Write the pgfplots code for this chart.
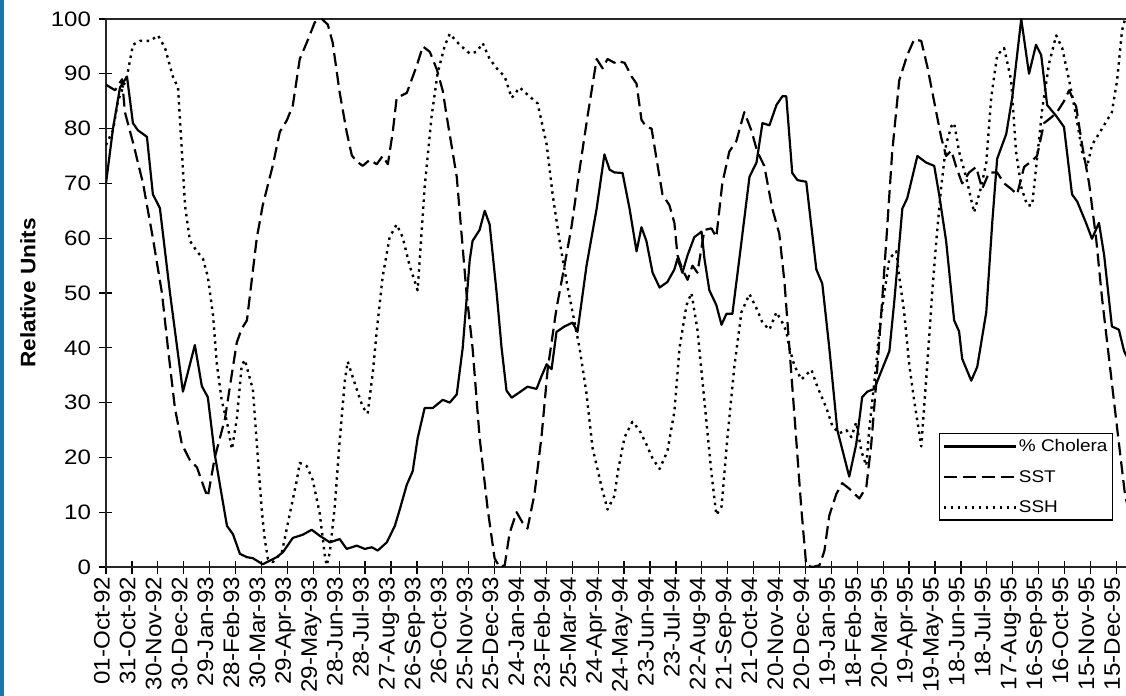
\documentclass[border=0pt]{standalone}
\usepackage{fontspec}
\setmainfont{Liberation Sans}
\newfontfamily\xtfont{Liberation Sans}[FakeStretch=1.08]
\newfontfamily\ytfont{Liberation Sans}[FakeStretch=1.15]
\newfontfamily\lgfont{Liberation Sans}[FakeStretch=1.12]
\newfontfamily\ylfont{Liberation Sans}[FakeStretch=1.08]
\usepackage{pgfplots}
\pgfplotsset{compat=1.18}
\definecolor{frameblue}{RGB}{28,118,165}
\begin{document}
\begin{tikzpicture}
\clip (-106bp,-129bp) rectangle (1020bp,567bp);
\fill[white] (-106bp,-129bp) rectangle (1020bp,567bp);
\fill[frameblue] (-106bp,-129bp) rectangle (-102bp,567bp);
\begin{axis}[
  at={(0,0)}, anchor=south west,
  scale only axis, width=1022bp, height=548bp,
  xmin=0, xmax=39.45, ymin=0, ymax=100,
  xtick={0,1,...,39},
  xticklabels={01-Oct-92,31-Oct-92,30-Nov-92,30-Dec-92,29-Jan-93,28-Feb-93,30-Mar-93,29-Apr-93,29-May-93,28-Jun-93,28-Jul-93,27-Aug-93,26-Sep-93,26-Oct-93,25-Nov-93,25-Dec-93,24-Jan-94,23-Feb-94,25-Mar-94,24-Apr-94,24-May-94,23-Jun-94,23-Jul-94,22-Aug-94,21-Sep-94,21-Oct-94,20-Nov-94,20-Dec-94,19-Jan-95,18-Feb-95,20-Mar-95,19-Apr-95,19-May-95,18-Jun-95,18-Jul-95,17-Aug-95,16-Sep-95,16-Oct-95,15-Nov-95,15-Dec-95},
  ytick={0,10,...,100},
  xtick pos=bottom, ytick pos=left,
  tick align=center, major tick length=13bp,
  tick style={line width=1.3bp, black},
  axis line style={line width=1.7bp, black!85},
  /pgf/number format/assume math mode=true,
  xticklabel style={rotate=90, anchor=east, inner ysep=0pt, text height=0.72em, text depth=0pt, font=\xtfont\fontsize{22.5}{25}\selectfont},
  yticklabel style={font=\ytfont\fontsize{21}{24}\selectfont, xshift=-5bp},
  ylabel={\bfseries Relative Units},
  every axis y label/.style={at={(axis description cs:0,0.5)}, xshift=-78bp, rotate=90, anchor=center, font=\ylfont\fontsize{21}{24}\selectfont},
  legend style={at={(0.815,0.2445)}, anchor=north west, draw=black, line width=1.2bp,
    font=\lgfont\fontsize{17}{19}\selectfont, inner xsep=3bp, inner ysep=4bp, row sep=13bp,
    cells={anchor=west}},
  legend image code/.code={\draw[#1] (0bp,0bp) -- (72bp,0bp);},
  every axis plot/.append style={no markers, line join=round, black},
]
\addplot[line width=2.2bp] coordinates {
(0,70) (0.27,80) (0.54,87.5) (0.81,89.5) (1.04,81) (1.23,79.7) (1.58,78.5) (1.81,68) (2.08,65.5) (2.47,50) (2.97,32) (3.43,40.5) (3.70,33) (3.93,31) (4.2,20.5) (4.47,13) (4.67,7.5) (4.9,6) (5.17,2.4) (5.44,1.8) (5.67,1.6) (6.05,0.5) (6.59,1.8) (6.83,2.7) (7.21,5.3) (7.60,5.9) (7.94,6.8) (8.25,5.7) (8.64,4.5) (9.02,5.1) (9.29,3.3) (9.68,3.9) (9.99,3.3) (10.26,3.6) (10.49,3.0) (10.84,4.5) (11.15,7.5) (11.34,10.5) (11.61,15) (11.84,17.5) (12.03,23.5) (12.30,29) (12.61,29) (13.0,30.5) (13.27,30) (13.54,31.5) (13.77,40) (14.04,56) (14.15,59.5) (14.42,61.5) (14.62,65) (14.81,62.5) (15.08,50) (15.27,40) (15.46,32.2) (15.66,30.9) (15.97,31.9) (16.27,32.9) (16.62,32.5) (16.81,34.8) (17.01,37) (17.20,36.1) (17.39,42.9) (17.70,43.9) (18.01,44.6) (18.20,42.9) (18.55,55) (18.94,65.4) (19.24,75.3) (19.44,72.5) (19.63,72) (19.94,71.9) (20.21,65.4) (20.48,57.6) (20.67,62) (20.86,59.5) (21.10,53.7) (21.37,51) (21.67,52) (21.94,54.3) (22.06,56.3) (22.25,53.7) (22.45,56.9) (22.71,60.2) (22.99,61.2) (23.10,56.3) (23.29,50.5) (23.56,47.8) (23.76,44.2) (23.95,46.2) (24.18,46.2) (24.45,56.3) (24.84,71.2) (25.11,73.8) (25.34,81) (25.61,80.6) (25.88,84.3) (26.11,85.9) (26.26,85.9) (26.49,71.9) (26.69,70.6) (27.03,70.3) (27.42,54.3) (27.65,51.7) (27.92,40) (28.23,25) (28.69,16.5) (28.96,22.4) (29.19,31) (29.39,32) (29.66,32.5) (29.85,34.8) (30.24,39.4) (30.43,48.5) (30.74,65.4) (30.93,67.3) (31.32,75) (31.66,73.8) (31.97,73.2) (32.16,68) (32.43,59.5) (32.74,45) (32.93,43) (33.05,38) (33.40,34) (33.63,36.5) (33.98,46.5) (34.21,62.8) (34.40,74.5) (34.75,79) (34.98,85.6) (35.33,100) (35.63,90) (35.90,95.3) (36.10,93.4) (36.33,84.3) (36.68,82.3) (36.98,80.3) (37.29,68) (37.49,66.7) (37.83,62.8) (38.06,59.9) (38.33,62.8) (38.53,56.9) (38.83,43.9) (39.10,43.3) (39.30,39.4) (39.45,38)
};
\addlegendentry{\% Cholera}
\addplot[line width=2.2bp, dash pattern=on 13bp off 6bp] coordinates {
(0,88) (0.35,87) (0.62,89) (0.73,83) (1.04,77.5) (1.43,70) (1.81,60) (2.16,50) (2.39,40) (2.66,29) (2.93,22.4) (3.24,19.5) (3.51,18.2) (3.82,14) (3.93,12.8) (4.2,20) (4.59,27) (4.90,36.5) (5.05,41) (5.24,43.5) (5.44,45) (5.82,60) (6.05,66) (6.44,73.3) (6.71,79.4) (6.98,81.5) (7.21,84.2) (7.48,92.7) (7.75,95.7) (8.06,99.4) (8.33,100) (8.56,99) (8.75,95.7) (9.02,86.6) (9.29,79.4) (9.49,75.1) (9.68,74) (9.91,73.2) (10.18,74.3) (10.45,73.5) (10.68,75) (10.88,73.5) (11.07,79.4) (11.22,85.6) (11.61,86.5) (11.99,91.4) (12.23,95) (12.50,94) (12.77,90.8) (13.00,86.9) (13.15,82.3) (13.54,71.2) (13.92,49.8) (14.15,40) (14.42,23.7) (14.73,10.7) (15.0,1.6) (15.19,0) (15.39,0.3) (15.58,6.2) (15.85,10) (16.08,8.1) (16.27,7) (16.54,13.3) (16.81,23.7) (17.05,36.1) (17.39,47.2) (17.70,55) (17.97,62.1) (18.28,72.5) (18.59,82.3) (18.94,92.7) (19.17,91) (19.36,92.7) (19.63,92) (19.71,92.4) (20.02,92) (20.29,89.5) (20.48,88.2) (20.67,81.6) (20.86,80.3) (21.06,80) (21.25,74.5) (21.48,68) (21.75,66) (21.94,62.8) (22.06,56.9) (22.25,54.3) (22.45,52.4) (22.64,55) (22.83,53.7) (23.10,61.5) (23.37,61.8) (23.56,60.2) (23.79,70) (24.06,75.8) (24.33,77.7) (24.64,83) (24.91,79.7) (25.14,75.8) (25.41,73.2) (25.72,65.4) (25.99,60.8) (26.19,52) (26.38,40) (26.57,28) (26.84,10.7) (27.03,0.3) (27.27,0) (27.54,0.3) (27.73,2.9) (27.92,9.4) (28.19,13.3) (28.42,15.3) (28.69,14.3) (29.08,12.5) (29.35,14.6) (29.54,22.4) (29.73,33.5) (29.93,46.5) (30.12,59.5) (30.35,75.8) (30.62,88.8) (30.93,93.4) (31.20,96.3) (31.47,96) (31.70,91.4) (31.97,84.9) (32.24,78.4) (32.43,75) (32.63,76) (32.82,73) (33.05,70) (33.32,72) (33.59,73) (33.82,69) (34.09,72) (34.40,72) (34.67,70) (34.94,69) (35.17,68) (35.44,73) (35.71,74) (35.94,75) (36.21,81) (36.48,82) (36.71,83) (36.98,85) (37.18,87) (37.45,84) (37.68,77) (37.95,70) (38.22,60) (38.45,49) (38.72,38) (38.99,27) (39.34,13) (39.45,11)
};
\addlegendentry{SST}
\addplot[line width=2.4bp, dash pattern=on 2.5bp off 4.5bp] coordinates {
(0,77) (0.27,79.7) (0.46,85) (0.81,89.5) (1.04,95.3) (1.31,96) (1.70,96) (2.01,97) (2.28,94.7) (2.58,89.5) (2.78,87.5) (2.93,75.8) (3.05,66) (3.24,59.5) (3.51,57.6) (3.74,56.3) (3.93,53) (4.13,46) (4.28,37) (4.47,30.3) (4.67,26.5) (4.86,21.5) (5.05,27) (5.24,36.8) (5.36,37.8) (5.67,32.4) (5.86,20) (6.02,10) (6.13,5) (6.25,1.5) (6.44,0.9) (6.79,2.7) (7.10,9.8) (7.37,15.9) (7.48,19) (7.75,18.4) (7.98,15.9) (8.25,9.8) (8.45,2) (8.52,0.3) (8.64,2.7) (8.83,11) (9.02,23) (9.22,34) (9.33,37.5) (9.68,32.4) (9.91,29.2) (10.10,28) (10.30,35.5) (10.45,43) (10.68,53) (10.95,60.2) (11.22,62.5) (11.45,60.2) (11.72,55) (12.03,50.5) (12.30,69.3) (12.57,82.3) (12.80,90.1) (13.07,95) (13.27,97.3) (13.65,95.3) (14.04,93.7) (14.31,94) (14.54,95.6) (14.81,92.7) (15.12,90.8) (15.39,89.5) (15.66,85.6) (15.97,87.5) (16.27,86.2) (16.66,84.6) (17.01,77.1) (17.24,68) (17.51,59.5) (17.82,51) (18.01,46.5) (18.28,40) (18.55,31.6) (18.78,21.8) (19.13,14.6) (19.36,10.5) (19.63,13) (19.75,17.2) (20.02,23.7) (20.32,26.5) (20.59,25) (20.86,22.4) (21.10,19.8) (21.37,17.9) (21.67,21.1) (21.94,28.3) (22.14,40) (22.41,47.8) (22.60,50) (22.83,43.3) (23.10,30.3) (23.37,17.2) (23.56,9.5) (23.76,11) (23.99,23.7) (24.26,36.8) (24.53,46.5) (24.84,49.8) (25.11,47.2) (25.34,44.6) (25.61,43.3) (25.88,46.5) (26.11,44.6) (26.26,43) (26.38,40) (26.57,36.8) (26.84,34.2) (27.23,36) (27.46,32.9) (27.81,29) (28.04,25.7) (28.31,24.4) (28.58,25) (28.77,23.7) (28.96,26.4) (29.16,21.1) (29.35,18.5) (29.46,25) (29.58,30.3) (29.73,36.8) (29.85,43.3) (30.04,49.8) (30.24,56.3) (30.51,57.6) (30.62,53) (30.81,46.5) (31.01,36.8) (31.20,30.3) (31.47,22) (31.70,36.8) (31.89,49.8) (32.05,59.5) (32.24,69.3) (32.43,77.1) (32.63,80.4) (32.74,81) (32.93,75.8) (33.20,71.2) (33.51,64.7) (33.78,69.3) (33.98,73.8) (34.17,85.6) (34.40,93.4) (34.67,94.7) (34.94,88.8) (35.13,75.8) (35.33,69.3) (35.56,66) (35.75,66) (35.94,74.5) (36.14,83.6) (36.41,92) (36.68,97) (36.91,94.7) (37.18,88.8) (37.45,82.3) (37.68,75.8) (37.87,73) (38.06,77) (38.45,80) (38.83,83) (39.03,88.8) (39.22,97.9) (39.34,100)
};
\addlegendentry{SSH}
\end{axis}
\end{tikzpicture}
\end{document}
